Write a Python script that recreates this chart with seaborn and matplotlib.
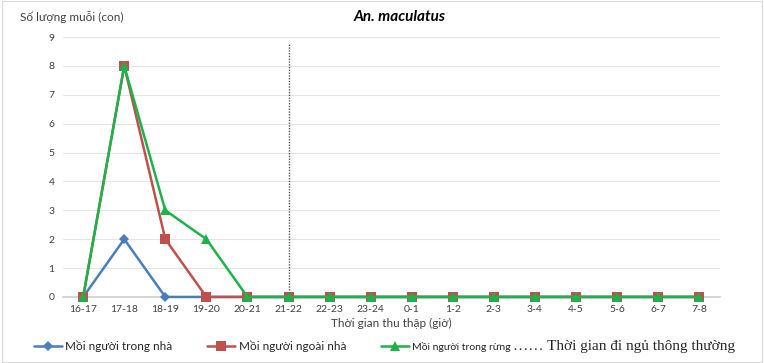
import seaborn as sns
import matplotlib.pyplot as plt
import pandas as pd

# Khung giờ thu thập
gio = ['16-17', '17-18', '18-19', '19-20', '20-21', '21-22', '22-23', '23-24',
       '0-1', '1-2', '2-3', '3-4', '4-5', '5-6', '6-7', '7-8']

trong_nha = [0, 2, 0, 0, 0, 0, 0, 0, 0, 0, 0, 0, 0, 0, 0, 0]
ngoai_nha = [0, 8, 2, 0, 0, 0, 0, 0, 0, 0, 0, 0, 0, 0, 0, 0]
trong_rung = [0, 8, 3, 2, 0, 0, 0, 0, 0, 0, 0, 0, 0, 0, 0, 0]

ten = ['Mồi người trong nhà', 'Mồi người ngoài nhà', 'Mồi người trong rừng']
gio_ngu = '21-22'

df = pd.DataFrame({
    'gio': gio * 3,
    'x': list(range(len(gio))) * 3,
    'so_luong': trong_nha + ngoai_nha + trong_rung,
    'nhom': [ten[0]] * len(gio) + [ten[1]] * len(gio) + [ten[2]] * len(gio),
})

sns.set_theme(style='white')
plt.rcParams['font.family'] = ['Lato', 'DejaVu Sans']

fig = plt.figure(figsize=(7.64, 3.63), dpi=100)
ax = fig.add_axes([0.082, 0.182, 0.860, 0.716])

mau = {ten[0]: '#4a7ebb', ten[1]: '#c0504d', ten[2]: '#1cb34a'}
dau = {ten[0]: 'D', ten[1]: 's', ten[2]: '^'}
co = {ten[0]: 5, ten[1]: 7, ten[2]: 7}
sns.lineplot(data=df, x='x', y='so_luong', hue='nhom', style='nhom',
             palette=mau, markers=dau, dashes=False, linewidth=1.8,
             markersize=7, markeredgewidth=0, ax=ax, legend=False)
for i, (ln, t) in enumerate(zip(ax.lines, ten)):
    ln.set_clip_on(False)
    ln.set_markersize(co[t])
    ln.set_zorder(3 + i)

# đường ngủ thông thường
ax.vlines(gio.index(gio_ngu), 0.25, 8.75, colors='#555555',
          linestyles=(0, (1, 1)), linewidth=1)

ax.set_xlim(-0.5, len(gio) - 0.5)
ax.set_ylim(0, 9)
ax.set_xticks(range(len(gio)))
ax.set_xticklabels(gio, fontsize=7.5, color='#404040')
ax.set_yticks(range(10))
ax.set_yticklabels([str(i) for i in range(10)], fontsize=7.5, color='#404040')
ax.tick_params(axis='both', length=0, pad=6)
ax.yaxis.grid(True, color='#e4e4e4', linewidth=0.8)
ax.set_axisbelow(True)
for s in ['top', 'right', 'left']:
    ax.spines[s].set_visible(False)
ax.spines['bottom'].set_color('#d0d0d0')
ax.set_xlabel('Thời gian thu thập (giờ)', fontsize=8.5, color='#404040', labelpad=3)
ax.set_ylabel('')

fig.text(0.026, 0.953, 'Số lượng muỗi (con)', fontsize=8.5, color='#404040',
         va='center')
fig.text(0.523, 0.953, 'An. maculatus', fontsize=11, fontweight='bold',
         fontstyle='italic', ha='center', va='center', color='black')

tay = [plt.Line2D([], [], color=mau[t], marker=dau[t], markersize=co[t],
                  markeredgewidth=0, linewidth=1.8) for t in ten]
leg = fig.legend(tay, ten, loc='center left', bbox_to_anchor=(0.03, 0.045),
                 ncol=3, frameon=False, fontsize=8.5, handlelength=2.4,
                 handletextpad=0.3, columnspacing=2.9)
leg.get_texts()[2].set_fontsize(7.5)
fig.text(0.671, 0.045, '…… Thời gian đi ngủ thông thường', fontsize=11,
         family=['Liberation Serif', 'DejaVu Serif'], va='center')

fig.patches.append(plt.Rectangle((0.002, 0.002), 0.996, 0.996, fill=False,
                                 edgecolor='#d9d9d9', linewidth=0.8,
                                 transform=fig.transFigure))

fig.savefig('out.png', dpi=100)
